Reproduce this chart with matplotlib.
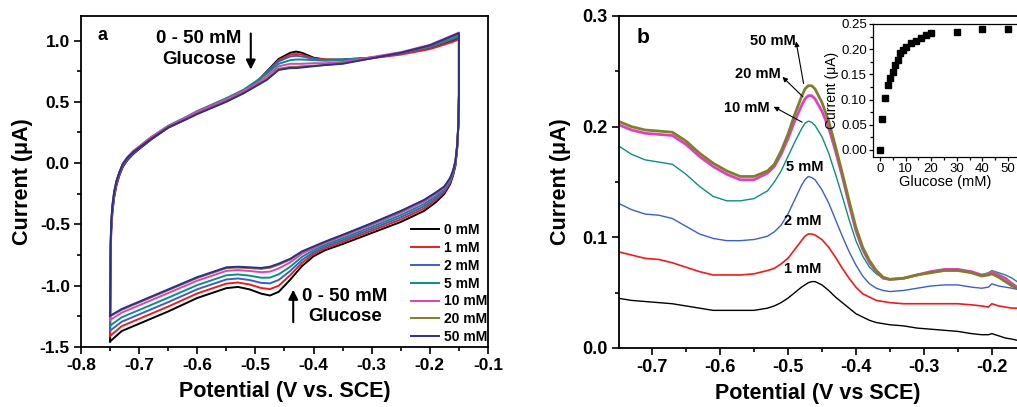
import matplotlib
matplotlib.use("Agg")
import matplotlib.pyplot as plt
from matplotlib.ticker import MultipleLocator

plt.rcParams['font.family'] = ['Liberation Sans', 'DejaVu Sans']
plt.rcParams['font.weight'] = 'bold'

# ---------------- Panel a : cyclic voltammograms ----------------
conc_labels = ['0 mM', '1 mM', '2 mM', '5 mM', '10 mM', '20 mM', '50 mM']
colors_a = ['#000000', '#ee1c1c', '#3a5fcd', '#0a8f80', '#e040c0', '#7f7f2a', '#2e2e8f']

# anodic (upper) branch potentials
xu = [-0.75, -0.7495, -0.749, -0.748, -0.746, -0.743, -0.739, -0.734, -0.728, -0.72,
      -0.71, -0.70, -0.68, -0.65, -0.62, -0.60, -0.55, -0.52, -0.50, -0.48,
      -0.46, -0.44, -0.43, -0.42, -0.40, -0.38, -0.35, -0.30, -0.25, -0.20, -0.16, -0.15]
up_0 = [-1.455, -1.0, -0.75, -0.55, -0.40, -0.28, -0.18, -0.10, -0.03, 0.025, 0.075, 0.115, 0.19, 0.29, 0.36, 0.41, 0.515, 0.585, 0.65, 0.75, 0.85, 0.90, 0.91, 0.90, 0.86, 0.845, 0.845, 0.86, 0.895, 0.94, 1.0, 1.02]
up_1 = [-1.41, -0.98, -0.73, -0.54, -0.39, -0.27, -0.175, -0.095, -0.025, 0.03, 0.08, 0.12, 0.195, 0.29, 0.36, 0.41, 0.515, 0.585, 0.65, 0.745, 0.84, 0.885, 0.89, 0.885, 0.855, 0.845, 0.84, 0.855, 0.885, 0.93, 0.99, 1.01]
up_2 = [-1.367, -0.96, -0.71, -0.52, -0.38, -0.26, -0.165, -0.09, -0.02, 0.035, 0.085, 0.125, 0.20, 0.295, 0.365, 0.415, 0.52, 0.59, 0.655, 0.74, 0.83, 0.87, 0.875, 0.87, 0.85, 0.84, 0.845, 0.86, 0.895, 0.945, 1.01, 1.03]
up_5 = [-1.326, -0.94, -0.69, -0.50, -0.365, -0.25, -0.155, -0.08, -0.01, 0.045, 0.095, 0.135, 0.21, 0.305, 0.375, 0.425, 0.53, 0.60, 0.665, 0.73, 0.81, 0.84, 0.845, 0.845, 0.84, 0.835, 0.84, 0.86, 0.90, 0.95, 1.02, 1.04]
up_10 = [-1.28, -0.92, -0.67, -0.49, -0.355, -0.24, -0.15, -0.075, -0.005, 0.05, 0.10, 0.135, 0.21, 0.30, 0.37, 0.42, 0.52, 0.59, 0.645, 0.71, 0.79, 0.81, 0.81, 0.81, 0.815, 0.815, 0.825, 0.865, 0.905, 0.965, 1.045, 1.065]
up_20 = [-1.25, -0.91, -0.66, -0.485, -0.35, -0.235, -0.145, -0.075, -0.005, 0.045, 0.09, 0.125, 0.195, 0.29, 0.355, 0.405, 0.505, 0.575, 0.63, 0.69, 0.77, 0.785, 0.785, 0.79, 0.795, 0.80, 0.815, 0.855, 0.90, 0.955, 1.035, 1.055]
up_50 = [-1.245, -0.9, -0.65, -0.48, -0.345, -0.235, -0.145, -0.075, -0.005, 0.045, 0.09, 0.125, 0.195, 0.29, 0.355, 0.40, 0.50, 0.57, 0.625, 0.68, 0.76, 0.775, 0.775, 0.78, 0.79, 0.80, 0.81, 0.855, 0.90, 0.96, 1.04, 1.06]

# cathodic (lower) branch potentials
xl = [-0.150, -0.151, -0.153, -0.156, -0.160, -0.165, -0.175, -0.19, -0.21, -0.25,
      -0.30, -0.35, -0.38, -0.40, -0.42, -0.44, -0.46, -0.475, -0.49, -0.51,
      -0.53, -0.55, -0.60, -0.65, -0.70, -0.73, -0.75]
lo_0 = [0.55, 0.30, 0.12, -0.02, -0.10, -0.17, -0.25, -0.32, -0.39, -0.48, -0.57, -0.66, -0.71, -0.76, -0.84, -0.95, -1.05, -1.08, -1.065, -1.03, -1.01, -1.02, -1.10, -1.21, -1.31, -1.37, -1.455]
lo_1 = [0.55, 0.30, 0.127, -0.011, -0.09, -0.159, -0.237, -0.302, -0.37, -0.46, -0.552, -0.643, -0.695, -0.742, -0.814, -0.913, -1.00, -1.028, -1.019, -0.99, -0.974, -0.983, -1.063, -1.17, -1.27, -1.33, -1.41]
lo_2 = [0.55, 0.308, 0.133, -0.003, -0.083, -0.149, -0.225, -0.286, -0.352, -0.442, -0.536, -0.628, -0.68, -0.727, -0.79, -0.879, -0.953, -0.981, -0.977, -0.954, -0.941, -0.949, -1.029, -1.134, -1.234, -1.294, -1.367]
lo_5 = [0.55, 0.312, 0.139, 0.005, -0.075, -0.139, -0.213, -0.27, -0.334, -0.424, -0.52, -0.613, -0.666, -0.71, -0.765, -0.845, -0.907, -0.934, -0.935, -0.918, -0.908, -0.915, -0.995, -1.098, -1.198, -1.258, -1.326]
lo_10 = [0.55, 0.317, 0.145, 0.013, -0.067, -0.129, -0.201, -0.253, -0.315, -0.405, -0.503, -0.597, -0.652, -0.694, -0.74, -0.809, -0.859, -0.885, -0.89, -0.88, -0.873, -0.879, -0.959, -1.06, -1.16, -1.22, -1.28]
lo_20 = [0.55, 0.319, 0.149, 0.018, -0.062, -0.122, -0.193, -0.243, -0.304, -0.394, -0.493, -0.588, -0.643, -0.683, -0.725, -0.787, -0.829, -0.854, -0.863, -0.857, -0.852, -0.857, -0.937, -1.037, -1.137, -1.197, -1.25]
lo_50 = [0.55, 0.32, 0.15, 0.02, -0.06, -0.12, -0.19, -0.24, -0.30, -0.39, -0.49, -0.585, -0.64, -0.68, -0.72, -0.78, -0.82, -0.845, -0.855, -0.85, -0.845, -0.85, -0.93, -1.03, -1.13, -1.19, -1.245]

upper_a = [up_0, up_1, up_2, up_5, up_10, up_20, up_50]
lower_a = [lo_0, lo_1, lo_2, lo_5, lo_10, lo_20, lo_50]

# ---------------- Panel b : DPV curves ----------------
xb = [-0.75, -0.73, -0.71, -0.69, -0.67, -0.65, -0.63, -0.61, -0.59, -0.57, -0.55, -0.53,
      -0.52, -0.51, -0.50, -0.49, -0.48, -0.475, -0.47, -0.465, -0.46, -0.45, -0.44,
      -0.43, -0.42, -0.41, -0.40, -0.39, -0.38, -0.37, -0.36, -0.35, -0.33, -0.31,
      -0.29, -0.27, -0.25, -0.23, -0.215, -0.205, -0.20, -0.19, -0.18, -0.17, -0.163]
b_1 = [0.045, 0.043, 0.042, 0.041, 0.040, 0.038, 0.036, 0.034, 0.034, 0.034, 0.034, 0.036,
       0.038, 0.041, 0.045, 0.050, 0.055, 0.057, 0.059, 0.060, 0.060, 0.057, 0.052,
       0.046, 0.041, 0.036, 0.031, 0.028, 0.025, 0.023, 0.022, 0.021, 0.020, 0.018,
       0.017, 0.016, 0.015, 0.013, 0.012, 0.012, 0.013, 0.011, 0.009, 0.008, 0.007]
b_2 = [0.087, 0.084, 0.081, 0.080, 0.077, 0.073, 0.069, 0.066, 0.066, 0.066, 0.067, 0.070,
       0.072, 0.076, 0.081, 0.089, 0.097, 0.101, 0.103, 0.103, 0.102, 0.098, 0.091,
       0.082, 0.072, 0.063, 0.055, 0.049, 0.046, 0.043, 0.042, 0.041, 0.040, 0.040,
       0.040, 0.040, 0.040, 0.039, 0.038, 0.037, 0.040, 0.038, 0.037, 0.036, 0.036]
b_5 = [0.131, 0.125, 0.121, 0.120, 0.117, 0.110, 0.103, 0.099, 0.097, 0.097, 0.098, 0.101,
       0.105, 0.111, 0.121, 0.134, 0.147, 0.152, 0.155, 0.154, 0.152, 0.143, 0.131,
       0.116, 0.101, 0.087, 0.075, 0.065, 0.058, 0.054, 0.052, 0.051, 0.052, 0.054,
       0.056, 0.057, 0.057, 0.055, 0.054, 0.055, 0.058, 0.056, 0.055, 0.054, 0.053]
b_10 = [0.183, 0.175, 0.170, 0.168, 0.166, 0.157, 0.146, 0.137, 0.133, 0.133, 0.135, 0.142,
        0.150, 0.160, 0.173, 0.186, 0.198, 0.203, 0.205, 0.204, 0.201, 0.191, 0.176,
        0.157, 0.137, 0.116, 0.097, 0.083, 0.073, 0.067, 0.063, 0.062, 0.063, 0.066,
        0.069, 0.071, 0.071, 0.069, 0.066, 0.068, 0.070, 0.068, 0.066, 0.063, 0.060]
b_20 = [0.202, 0.197, 0.194, 0.193, 0.192, 0.184, 0.173, 0.164, 0.157, 0.152, 0.152, 0.158,
        0.164, 0.175, 0.189, 0.205, 0.219, 0.225, 0.228, 0.228, 0.225, 0.214, 0.199,
        0.178, 0.155, 0.130, 0.106, 0.089, 0.077, 0.069, 0.063, 0.062, 0.063, 0.066,
        0.069, 0.071, 0.071, 0.069, 0.066, 0.067, 0.069, 0.066, 0.063, 0.058, 0.055]
b_50 = [0.205, 0.200, 0.197, 0.196, 0.195, 0.187, 0.176, 0.167, 0.160, 0.155, 0.155, 0.160,
        0.166, 0.178, 0.193, 0.211, 0.227, 0.234, 0.237, 0.237, 0.234, 0.222, 0.205,
        0.182, 0.158, 0.133, 0.109, 0.091, 0.079, 0.070, 0.064, 0.062, 0.063, 0.066,
        0.068, 0.070, 0.070, 0.068, 0.065, 0.066, 0.067, 0.064, 0.060, 0.056, 0.054]
curves_b = [b_1, b_2, b_5, b_10, b_20, b_50]
colors_b = ['#000000', '#ee1c1c', '#3a5fcd', '#0a8f80', '#e040c0', '#7f7f2a']
widths_b = [1.0, 1.2, 1.0, 1.0, 2.0, 2.0]

# labels in panel b
blabels = ['1 mM', '2 mM', '5 mM', '10 mM', '20 mM', '50 mM']
blabel_x = [-0.478, -0.478, -0.475, -0.560, -0.544, -0.522]
blabel_y = [0.071, 0.115, 0.164, 0.217, 0.248, 0.277]

# inset: peak current vs glucose
gluc = [0, 1, 2, 3, 4, 5, 6, 7, 8, 9, 10, 12, 14, 16, 18, 20, 30, 40, 50]
peak = [0.0, 0.0615, 0.104, 0.128, 0.143, 0.155, 0.168, 0.178, 0.192, 0.198, 0.205,
        0.213, 0.217, 0.223, 0.228, 0.232, 0.235, 0.240, 0.240]

fig = plt.figure(figsize=(10.17, 4.07), dpi=100)

# ---------- axes a ----------
axa = fig.add_axes([81/1017, 1-347/407, 407/1017, 331/407])
for i in range(len(conc_labels)):
    xs = xu + xl
    ys = upper_a[i] + lower_a[i]
    axa.plot(xs, ys, color=colors_a[i], lw=1.4, label=conc_labels[i])
axa.set_xlim(-0.8, -0.1)
axa.set_ylim(-1.5, 1.2)
axa.xaxis.set_minor_locator(MultipleLocator(0.05))
axa.yaxis.set_minor_locator(MultipleLocator(0.25))
axa.set_xticks([-0.8, -0.7, -0.6, -0.5, -0.4, -0.3, -0.2, -0.1])
axa.set_xticklabels(['-0.8', '-0.7', '-0.6', '-0.5', '-0.4', '-0.3', '-0.2', '-0.1'])
axa.set_yticks([-1.5, -1.0, -0.5, 0.0, 0.5, 1.0])
axa.set_yticklabels(['-1.5', '-1.0', '-0.5', '0.0', '0.5', '1.0'])
axa.tick_params(which='both', direction='out', width=1.2, labelsize=12.5, pad=3)
axa.tick_params(which='major', length=5)
axa.tick_params(which='minor', length=3)
for s in axa.spines.values():
    s.set_linewidth(1.3)
axa.set_xlabel('Potential (V vs. SCE)', fontsize=15.5, fontweight='bold', labelpad=6)
axa.set_ylabel('Current (μA)', fontsize=15.5, fontweight='bold', labelpad=5)
axa.text(0.04, 0.94, 'a', transform=axa.transAxes, fontsize=13, fontweight='bold',
         ha='left', va='center')
axa.text(-0.597, 0.93, '0 - 50 mM\nGlucose', fontsize=13.5, fontweight='bold',
         ha='center', va='center', linespacing=1.25)
axa.annotate('', xy=(-0.508, 0.74), xytext=(-0.508, 1.08),
             arrowprops=dict(arrowstyle='-|>', color='k', lw=1.5, mutation_scale=14))
axa.text(-0.346, -1.169, '0 - 50 mM\nGlucose', fontsize=13.5, fontweight='bold',
         ha='center', va='center', linespacing=1.25)
axa.annotate('', xy=(-0.435, -1.01), xytext=(-0.435, -1.32),
             arrowprops=dict(arrowstyle='-|>', color='k', lw=1.5, mutation_scale=14))
axa.legend(loc='lower right', bbox_to_anchor=(1.005, 0.0), frameon=False,
           prop={'size': 10, 'weight': 'bold'}, handlelength=2.0,
           handletextpad=0.35, labelspacing=0.28, borderaxespad=0.1,
           borderpad=0.1)

# ---------- axes b ----------
axb = fig.add_axes([619/1017, 1-348/407, 1-619/1017, 332/407])
for i in range(len(curves_b)):
    axb.plot(xb, curves_b[i], color=colors_b[i], lw=widths_b[i])
axb.set_xlim(-0.7485, -0.163)
axb.set_ylim(0.0, 0.3)
axb.set_xticks([-0.7, -0.6, -0.5, -0.4, -0.3, -0.2])
axb.set_xticklabels(['-0.7', '-0.6', '-0.5', '-0.4', '-0.3', '-0.2'])
axb.xaxis.set_minor_locator(MultipleLocator(0.05))
axb.set_yticks([0.0, 0.1, 0.2, 0.3])
axb.set_yticklabels(['0.0', '0.1', '0.2', '0.3'])
axb.yaxis.set_minor_locator(MultipleLocator(0.05))
axb.tick_params(which='both', direction='out', width=1.2, labelsize=13, pad=3)
axb.tick_params(which='major', length=5)
axb.tick_params(which='minor', length=3)
axb.spines['right'].set_visible(False)
for s in ['left', 'bottom', 'top']:
    axb.spines[s].set_linewidth(1.3)
axb.set_xlabel('Potential (V vs SCE)', fontsize=15.5, fontweight='bold', labelpad=5)
axb.set_ylabel('Current (μA)', fontsize=15.5, fontweight='bold', labelpad=8)
axb.text(0.045, 0.934, 'b', transform=axb.transAxes, fontsize=15, fontweight='bold',
         ha='left', va='center')
for t, x, y in zip(blabels, blabel_x, blabel_y):
    axb.text(x, y, t, fontsize=10.5, fontweight='bold', ha='center', va='center')
arrow_tail = [(-0.477, 0.239), (-0.478, 0.227), (-0.479, 0.204)]
arrow_head = [(-0.488, 0.277), (-0.508, 0.245), (-0.521, 0.218)]
for (tx, ty), (hx, hy) in zip(arrow_tail, arrow_head):
    axb.annotate('', xy=(hx, hy), xytext=(tx, ty),
                 arrowprops=dict(arrowstyle='-|>', color='k', lw=0.8, mutation_scale=7,
                                 shrinkA=0, shrinkB=0))

# ---------- inset ----------
axi = fig.add_axes([873/1017, 1-157/407, 1-873/1017, (157-24)/407])
axi.plot(gluc, peak, 's', color='k', markersize=4.2)
axi.set_xlim(-2.7, 53.5)
axi.set_ylim(-0.014, 0.25)
axi.set_xticks([0, 10, 20, 30, 40, 50])
axi.xaxis.set_minor_locator(MultipleLocator(5))
axi.set_yticks([0.0, 0.05, 0.10, 0.15, 0.20, 0.25])
axi.set_yticklabels(['0.00', '0.05', '0.10', '0.15', '0.20', '0.25'])
axi.yaxis.set_minor_locator(MultipleLocator(0.025))
axi.tick_params(which='both', direction='out', width=0.9, labelsize=9.5, pad=1.5)
axi.tick_params(which='major', length=3)
axi.tick_params(which='minor', length=2)
for lab in axi.get_xticklabels() + axi.get_yticklabels():
    lab.set_fontweight('normal')
axi.spines['right'].set_visible(False)
for s in ['left', 'bottom', 'top']:
    axi.spines[s].set_linewidth(0.9)
axi.set_xlabel('Glucose (mM)', fontsize=10.5, fontweight='normal', labelpad=0)
axi.set_ylabel('Current (μA)', fontsize=10, fontweight='normal', labelpad=1)

fig.savefig('out.png', dpi=100)
